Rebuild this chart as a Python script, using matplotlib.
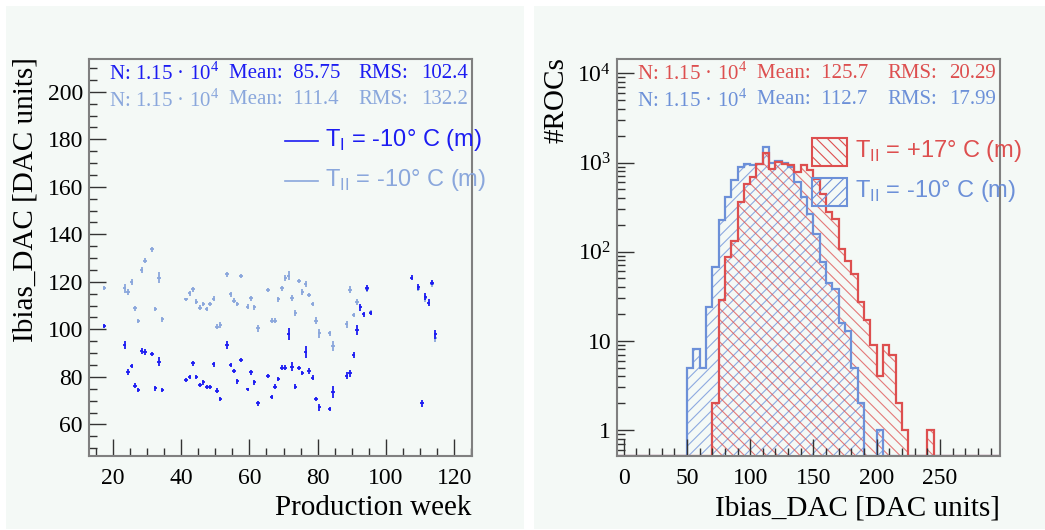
import numpy as np
import matplotlib
matplotlib.use('Agg')
import matplotlib.pyplot as plt
from matplotlib.patches import Rectangle
from matplotlib.lines import Line2D
from matplotlib.ticker import MultipleLocator, FixedLocator, FuncFormatter, LogLocator, NullFormatter

# ---------------- datos panel izquierdo: Ibias_DAC vs semana de produccion
week_t1 = [17.5, 23.5, 24.5, 25.5, 26.5, 27.5, 28.5, 29.5, 31.5, 32.5, 33.5, 34.5,
           41.5, 42.5, 43.5, 44.5, 45.5, 46.5, 47.5, 48.5, 49.5, 50.5, 51.5,
           53.5, 54.5, 55.5, 56.5, 57.5, 59.5, 60.5, 61.5, 62.5,
           65.5, 66.5, 67.5, 68.5, 69.5, 70.5, 71.5, 72.5, 73.5, 74.5, 75.5,
           76.5, 77.5, 78.5, 79.5, 80.5, 83.5, 84.5,
           88.5, 89.5, 90.5, 91.5, 92.5, 93.5, 94.5, 95.5,
           107.5, 109.5, 110.5, 111.5, 112.5, 113.5, 114.5]
ibias_t1 = [101.5, 93.4, 82.2, 84.6, 76.3, 74.5, 91.0, 90.6, 89.6, 75.2, 86.4, 74.5,
            78.7, 80.1, 85.7, 80.1, 76.6, 77.7, 75.6, 75.6, 85.3, 74.2, 70.7,
            93.4, 85.0, 82.5, 78.2, 87.1, 74.7, 81.9, 77.7, 68.8,
            80.4, 71.4, 75.9, 79.1, 83.9, 83.9, 97.9, 84.3, 75.9, 83.9, 81.8,
            90.6, 82.5, 79.7, 70.7, 67.2, 66.5, 73.8,
            80.5, 81.5, 89.2, 99.7, 109.3, 106.3, 117.3, 107.0,
            121.8, 117.7, 68.8, 113.8, 111.2, 119.6, 97.9]
err_t1 = [0.8, 1.8, 1.2, 1.0, 1.0, 1.0, 1.2, 1.2, 1.0, 1.0, 1.8, 1.0,
          0.8, 0.8, 1.0, 0.8, 0.8, 1.0, 0.8, 0.8, 1.0, 1.0, 1.0,
          1.8, 1.0, 1.0, 1.0, 0.8, 0.8, 1.0, 1.0, 1.0,
          0.8, 0.8, 1.2, 1.0, 1.0, 1.0, 2.5, 2.0, 1.2, 0.8, 0.8,
          2.5, 1.2, 1.0, 0.8, 1.5, 1.0, 2.5,
          1.5, 1.5, 1.2, 2.2, 1.5, 1.0, 1.2, 0.8,
          1.0, 1.2, 1.5, 1.5, 1.5, 1.0, 2.0]

week_t2 = [17.5, 23.5, 24.5, 25.5, 26.5, 27.5, 28.5, 29.5, 31.5, 32.5, 33.5, 34.5,
           41.5, 42.5, 43.5, 44.5, 45.5, 46.5, 47.5, 48.5, 49.5, 50.5, 51.5,
           53.5, 54.5, 55.5, 56.5, 57.5, 59.5, 60.5, 61.5, 62.5,
           65.5, 66.5, 67.5, 68.5, 69.5, 70.5, 71.5, 72.5, 73.5, 74.5, 75.5,
           76.5, 77.5, 78.5, 79.5, 80.5, 83.5, 84.5,
           88.5, 89.5, 90.5, 91.5, 94.5, 95.5,
           109.5, 111.5, 113.5, 114.5]
ibias_t2 = [117.3, 117.3, 115.6, 119.8, 108.8, 103.5, 125.0, 128.9, 133.7, 108.6, 121.8, 104.2,
            112.6, 115.2, 116.8, 111.6, 109.1, 110.7, 108.6, 110.7, 112.9, 101.1, 101.8,
            123.2, 114.7, 112.1, 110.7, 122.6, 109.5, 113.1, 109.3, 100.4,
            116.6, 103.6, 103.6, 112.6, 117.3, 121.5, 122.6, 113.3, 107.0, 120.4, 115.6,
            119.1, 114.5, 110.7, 103.6, 98.3, 98.3, 93.0,
            102.2, 116.6, 106.0, 111.6, 116.8, 107.2,
            117.2, 113.0, 119.0, 96.5]
err_t2 = [0.8, 1.8, 1.2, 1.2, 1.2, 1.0, 1.2, 1.0, 1.0, 1.0, 2.2, 1.2,
          0.8, 1.0, 1.0, 1.0, 1.0, 1.0, 0.8, 1.0, 1.0, 1.0, 1.2,
          1.0, 1.0, 1.0, 1.0, 0.8, 1.0, 1.0, 1.0, 1.5,
          1.0, 1.0, 1.0, 1.0, 1.0, 1.2, 1.8, 1.2, 1.2, 1.0, 1.2,
          1.2, 1.0, 1.0, 1.5, 2.0, 1.2, 2.2,
          1.5, 1.5, 0.8, 1.2, 1.2, 1.0,
          1.2, 1.5, 1.2, 2.0]

# ---------------- datos panel derecho: histogramas (bins de 5 DAC)
bin_width = 5
red_first = 70
red_counts = [2, 29, 86, 133, 357, 575, 695, 966, 1280, 850, 1025, 966, 930, 780, 930,
              820, 650, 440, 280, 233, 107, 79, 56, 27, 17, 9, 4, 9, 7, 2, 1,
              0, 0, 0, 1]
blue_first = 50
blue_counts = [5, 8, 5, 24, 67, 227, 408, 630, 900, 966, 930, 966, 1490, 1000, 1050,
               1000, 890, 600, 408, 265, 158, 76, 45, 38, 16, 13, 5, 2, 0, 0, 1]

stats_left = [["N: 1.15 · 10$^\\mathregular{4}$", "Mean:  85.75", "RMS:", "102.4"],
              ["N: 1.15 · 10$^\\mathregular{4}$", "Mean:  111.4", "RMS:", "132.2"]]
stats_right = [["N: 1.15 · 10$^\\mathregular{4}$", "Mean:  125.7", "RMS:", "20.29"],
               ["N: 1.15 · 10$^\\mathregular{4}$", "Mean:  112.7", "RMS:", "17.99"]]
leg_left = ["T$_\\mathregular{I}$ = -10° C (m)", "T$_\\mathregular{II}$ = -10° C (m)"]
leg_right = ["T$_\\mathregular{II}$ = +17° C (m)", "T$_\\mathregular{II}$ = -10° C (m)"]

# colores
c_dark = '#1c1cf2'
c_light = '#8aa7dc'
c_red = '#dd4f4f'
c_blue = '#6c90d8'
pad_bg = '#f4f9f6'
frame_col = '#808080'

W, H = 1045, 530
serif = 'Liberation Serif'
sans = 'Liberation Sans'


def fx(px):
    return px / W


def fy(py):
    return 1 - py / H


fig = plt.figure(figsize=(W / 100, H / 100), dpi=100)
fig.patch.set_facecolor('white')
# fondos de los pads
fig.patches.append(Rectangle((fx(6), fy(529)), fx(524) - fx(6), fy(6) - fy(529),
                             transform=fig.transFigure, facecolor=pad_bg, edgecolor='none', zorder=-10))
fig.patches.append(Rectangle((fx(534), fy(529)), 1 - fx(534), fy(6) - fy(529),
                             transform=fig.transFigure, facecolor=pad_bg, edgecolor='none', zorder=-10))

ax1 = fig.add_axes([fx(88.5), fy(456), fx(471.7) - fx(88.5), fy(59) - fy(456)])
ax2 = fig.add_axes([fx(616.7), fy(456), fx(1000) - fx(616.7), fy(59) - fy(456)])


def style_axes(ax):
    ax.set_facecolor(pad_bg)
    for s in ax.spines.values():
        s.set_color(frame_col)
        s.set_linewidth(1.5)
    ax.tick_params(which='both', direction='in', top=False, right=False, color='#333333', width=1)
    ax.tick_params(which='major', length=12)
    ax.tick_params(which='minor', length=6)
    ax.tick_params(axis='x', pad=9)
    ax.tick_params(axis='y', pad=4)
    for lab in ax.get_xticklabels() + ax.get_yticklabels():
        lab.set_fontfamily(serif)
        lab.set_fontsize(17)


# ---------------- panel izquierdo
ax1.errorbar(week_t2, ibias_t2, xerr=0.5, yerr=err_t2, fmt='none', ecolor=c_light, elinewidth=1.3)
ax1.errorbar(week_t1, ibias_t1, xerr=0.5, yerr=err_t1, fmt='none', ecolor=c_dark, elinewidth=1.3)
ax1.set_xlim(12.9, 125.1)
ax1.set_ylim(46.7, 213.8)
ax1.xaxis.set_major_locator(MultipleLocator(20))
ax1.xaxis.set_minor_locator(MultipleLocator(5))
ax1.yaxis.set_major_locator(MultipleLocator(20))
ax1.yaxis.set_minor_locator(MultipleLocator(5))
style_axes(ax1)

# ---------------- panel derecho
edges = np.arange(-10, 315, bin_width)
y0 = 0.51


def full_counts(first, counts):
    full = np.zeros(len(edges) - 1)
    i = int((first - edges[0]) // bin_width)
    full[i:i + len(counts)] = counts
    return np.maximum(full, y0)


blue_full = full_counts(blue_first, blue_counts)
red_full = full_counts(red_first, red_counts)
plt.rcParams['hatch.linewidth'] = 0.8
ax2.stairs(blue_full, edges, baseline=y0, fill=True, facecolor='none',
           edgecolor=(0.42, 0.56, 0.85, 0.75), hatch='///', linewidth=0)
ax2.stairs(red_full, edges, baseline=y0, fill=True, facecolor='none',
           edgecolor=(0.87, 0.31, 0.31, 0.75), hatch='\\\\\\', linewidth=0)
ax2.stairs(blue_full, edges, baseline=y0, color=c_blue, linewidth=1.6)
ax2.stairs(red_full, edges, baseline=y0, color=c_red, linewidth=1.6)
ax2.set_yscale('log')
ax2.set_xlim(-5.5, 297.5)
ax2.set_ylim(y0, 14500)
ax2.xaxis.set_major_locator(MultipleLocator(50))
ax2.xaxis.set_minor_locator(MultipleLocator(10))
ax2.yaxis.set_major_locator(FixedLocator([1, 10, 100, 1000, 10000]))
ax2.yaxis.set_minor_locator(LogLocator(base=10, subs=np.arange(2, 10)))
ax2.yaxis.set_minor_formatter(NullFormatter())


def log_fmt(v, pos):
    if v < 1.5:
        return '1'
    if v < 15:
        return '10'
    return '$\\mathregular{10^{%d}}$' % int(round(np.log10(v)))


ax2.yaxis.set_major_formatter(FuncFormatter(log_fmt))
style_axes(ax2)

# ---------------- titulos de ejes
fig.text(fx(26), fy(57), 'Ibias_DAC [DAC units]', rotation=90, ha='center', va='top',
         fontfamily=serif, fontsize=21)
fig.text(fx(471), fy(508), 'Production week', ha='right', va='center', fontfamily=serif, fontsize=21)
fig.text(fx(556), fy(57), '#ROCs', rotation=90, ha='center', va='top', fontfamily=serif, fontsize=21)
fig.text(fx(1000), fy(508), 'Ibias_DAC [DAC units]', ha='right', va='center', fontfamily=serif, fontsize=21)

# ---------------- cajas de estadistica
for row, yy, col in zip(stats_left, [73, 100], [c_dark, c_light]):
    fig.text(fx(109), fy(yy), row[0], ha='left', va='center', fontfamily=serif, fontsize=15, color=col)
    fig.text(fx(229), fy(yy), row[1], ha='left', va='center', fontfamily=serif, fontsize=15, color=col)
    fig.text(fx(358), fy(yy), row[2], ha='left', va='center', fontfamily=serif, fontsize=15, color=col)
    fig.text(fx(468), fy(yy), row[3], ha='right', va='center', fontfamily=serif, fontsize=15, color=col)
for row, yy, col in zip(stats_right, [73, 100], [c_red, c_blue]):
    fig.text(fx(637), fy(yy), row[0], ha='left', va='center', fontfamily=serif, fontsize=15, color=col)
    fig.text(fx(757), fy(yy), row[1], ha='left', va='center', fontfamily=serif, fontsize=15, color=col)
    fig.text(fx(887), fy(yy), row[2], ha='left', va='center', fontfamily=serif, fontsize=15, color=col)
    fig.text(fx(996), fy(yy), row[3], ha='right', va='center', fontfamily=serif, fontsize=15, color=col)

# ---------------- leyendas
for lab, yy, col in zip(leg_left, [141, 181], [c_dark, c_light]):
    fig.add_artist(Line2D([fx(285), fx(318)], [fy(yy), fy(yy)], color=col, linewidth=1.2))
    fig.text(fx(325), fy(yy - 1), lab, ha='left', va='center', fontfamily=sans, fontsize=17, color=col)

for lab, yy, col, hat in zip(leg_right, [152, 192], [c_red, c_blue], ['\\\\\\', '///']):
    fig.add_artist(Rectangle((fx(812), fy(yy + 14)), fx(847) - fx(812), fy(yy - 14) - fy(yy + 14),
                             transform=fig.transFigure, facecolor='none', edgecolor=col,
                             hatch=hat, linewidth=1.5))
    fig.text(fx(855), fy(yy - 1), lab, ha='left', va='center', fontfamily=sans, fontsize=17, color=col)

fig.savefig('out.png', dpi=100, facecolor='white')
